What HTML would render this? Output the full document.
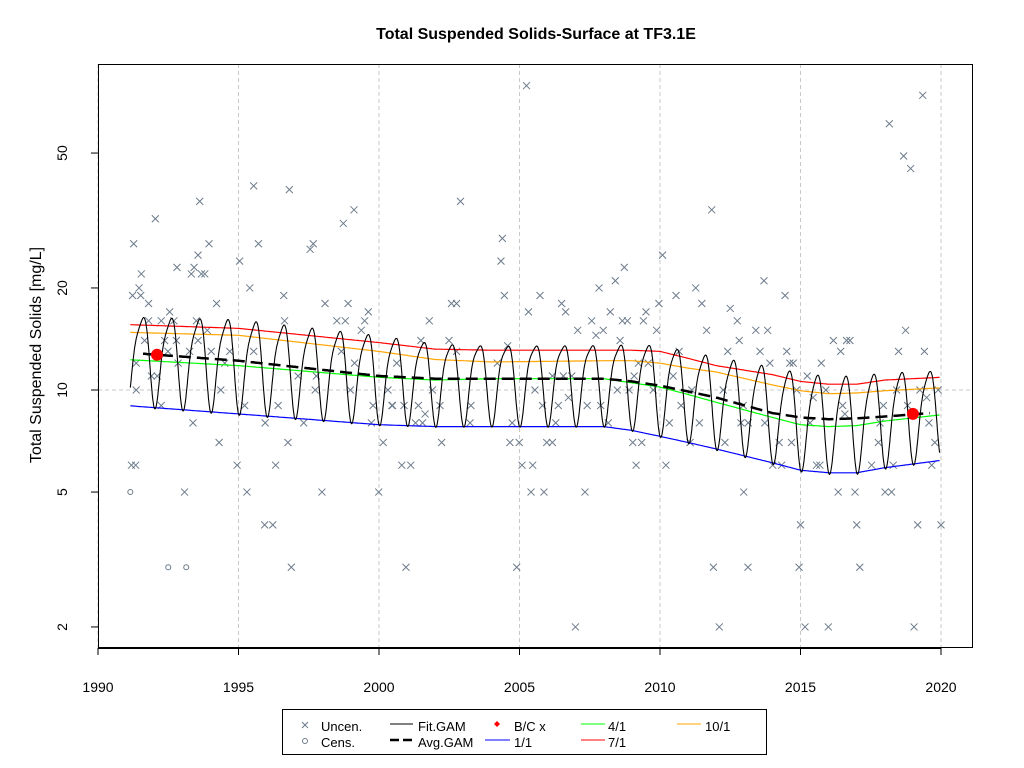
<!DOCTYPE html>
<html><head><meta charset="utf-8"><style>
body{margin:0;background:#fff;}
svg{display:block;font-family:"Liberation Sans",Arial,sans-serif;}
</style></head><body>
<svg id="chart" width="1024" height="768" viewBox="0 0 1024 768" xmlns="http://www.w3.org/2000/svg">
<rect x="0" y="0" width="1024" height="768" fill="#fff"/>
<text x="536" y="39" text-anchor="middle" font-size="16" font-weight="bold">Total Suspended Solids-Surface at TF3.1E</text>
<text transform="translate(41,355) rotate(-90)" text-anchor="middle" font-size="16">Total Suspended Solids [mg/L]</text>
<g id="grid"></g>
<g id="axes"></g>
<g id="marks"></g>
<g font-size="13">
<rect x="282.5" y="709.5" width="484" height="45" fill="#fff" stroke="#000"/>
<g><path d="M302,722 l6,6 M308,722 l-6,6" stroke="#6c7b8b"/><text x="321" y="731">Uncen.</text></g>
<g><circle cx="305" cy="741" r="2.5" fill="none" stroke="#6c7b8b"/><text x="321" y="747">Cens.</text></g>
<g><line x1="390" y1="724" x2="413" y2="724" stroke="#000"/><text x="418" y="731">Fit.GAM</text></g>
<g><line x1="390" y1="740" x2="413" y2="740" stroke="#000" stroke-width="2.5" stroke-dasharray="9,4"/><text x="418" y="747">Avg.GAM</text></g>
<g><path d="M497,721 l3,3 l-3,3 l-3,-3z" fill="#f00"/><text x="514" y="731">B/C x</text></g>
<g><line x1="485" y1="740" x2="510" y2="740" stroke="#00f"/><text x="514" y="747">1/1</text></g>
<g><line x1="581" y1="724" x2="605" y2="724" stroke="#0f0"/><text x="608" y="731">4/1</text></g>
<g><line x1="581" y1="740" x2="605" y2="740" stroke="#f00"/><text x="608" y="747">7/1</text></g>
<g><line x1="677" y1="724" x2="701" y2="724" stroke="#ffa500"/><text x="705" y="731">10/1</text></g>
</g>
</svg>
<script>
const xTicks=[1990,1995,2000,2005,2010,2015,2020];
const yTicks=[2,5,10,20,50];
const uncenYears=[1995.54,1996.81,1993.62,1999.11,1992.04,1998.73,1991.27,1993.95,1995.71,1997.66,1997.55,1993.56,1995.04,1992.81,1993.42,1991.54,1993.32,1993.68,1993.8,1995.4,1991.46,1991.23,1991.52,1996.61,1991.8,1994.22,1998.08,1998.9,1999.62,1992.55,1991.8,1992.25,1992.7,1993.5,1996.64,1998.5,1998.8,1999.49,1993.89,1999.37,1991.66,1992.37,1992.79,1993.56,1992.49,1993.26,1994.03,1994.69,1995.54,1998.66,1991.36,1992.85,1994.51,1999.13,1991.9,1992.11,1997.12,1997.77,1991.36,1994.37,1997.73,1998.98,2000.32,1992.25,1995.22,1996.41,1999.79,2000.46,1993.38,1995.95,1997.32,1999.73,1994.31,1996.76,2000.15,1991.19,1991.34,1994.95,1996.32,1993.08,1995.3,1997.97,1999.99,1995.93,1996.22,1996.88,
2005.25,2002.9,2004.39,2004.34,2010.09,2008.73,2008.41,2007.83,2004.46,2005.73,2010.57,2002.58,2002.76,2006.5,2009.96,2005.32,2006.64,2008.23,2009.5,2001.79,2007.57,2008.66,2008.84,2009.41,2007.07,2007.98,2009.88,2007.72,2001.49,2002.49,2008.58,2004.58,2002.76,2010.68,2000.63,2004.21,2009.23,2009.58,2006.17,2006.56,2006.86,2009.08,2010.47,2001.9,2005.55,2008.48,2008.9,2009.76,2006.74,2000.48,2000.89,2001.4,2002.17,2003.27,2005.82,2006.38,2007.41,2007.89,2010.75,2001.64,2001.3,2001.55,2003.24,2004.74,2006.29,2008.16,2010.33,2002.23,2004.66,2004.99,2005.97,2006.17,2009.03,2009.35,2000.81,2001.13,2005.09,2005.47,2009.15,2010.21,2005.41,2005.87,2007.33,2000.96,2004.9,2006.99,
2019.35,2018.16,2018.67,2018.92,2011.84,2013.7,2011.27,2014.45,2011.49,2012.5,2012.75,2011.66,2013.41,2013.83,2018.74,2012.82,2016.17,2016.64,2016.76,2012.41,2013.56,2014.51,2016.43,2018.49,2019.41,2013.91,2014.62,2014.74,2015.74,2015.24,2011.13,2012.25,2014.86,2015.9,2018.42,2019.25,2019.9,2019.49,2015.45,2016.5,2017.95,2018.81,2012.96,2016.58,2011.4,2012.88,2013.14,2013.73,2015.34,2017.83,2019.57,2011.07,2012.31,2014.24,2014.68,2017.77,2019.78,2014.01,2014.33,2015.57,2015.69,2017.53,2018.3,2019.67,2012.98,2016.34,2016.94,2018.01,2018.24,2015.0,2017.0,2019.17,2020.0,2011.9,2013.13,2014.95,2017.11,2012.11,2015.16,2015.99,2019.04];
const uncenValues=[40,39,36,34,32,31,27,27,27,27,26,25,24,23,23,22,22,22,22,20,20,19,19,19,18,18,18,18,17,17,16,16,16,16,16,16,16,16,15,15,14,14,14,14,13,13,13,13,13,13,12,12,12,12,11,11,11,11,10,10,10,10,10,9,9,9,9,9,8,8,8,8,7,7,7,6,6,6,6,5,5,5,5,4,4,3,
79,36,28,24,25,23,21,20,19,19,19,18,18,18,18,17,17,17,17,16,16,16,16,16,15,15,15,14.5,14,14,14,13.5,13,13,12,12,12,12,11,11,11,11,11,10,10,10,10,10,9.5,9,9,9,9,9,9,9,9,9,9,8.5,8,8,8,8,8,8,8,7,7,7,7,7,7,7,6,6,6,6,6,6,5,5,5,3,3,2,
74,61,49,45,34,21,20,19,18,17.4,16,15,15,15,15,14,14,14,14,13,13,13,13,13,13,12,12,12,12,11,10,10,10,10,10,10,10,9.5,9.5,9,9,9,9,8.5,8,8,8,8,8,8,8,7,7,7,7,7,7,6,6,6,6,6,6,6,5,5,5,5,5,4,4,4,4,3,3,3,3,2,2,2,2];
const censYears=[1991.15,1992.5,1993.14];
const censValues=[5,3,3];
const knotYears=[1991,1995,2000,2002,2004,2008,2009,2010,2011,2012,2014,2015,2016,2017,2018,2020];
const jan1=[9.0,8.5,7.9,7.8,7.8,7.8,7.6,7.3,7.0,6.7,6.1,5.8,5.7,5.7,5.9,6.2];
const apr1=[12.3,11.8,10.9,10.7,10.8,10.8,10.5,10.2,9.7,9.2,8.3,7.9,7.8,7.85,8.1,8.45];
const jul1=[15.6,15.2,13.8,13.2,13.1,13.1,13.1,13.0,12.4,11.8,11.1,10.6,10.4,10.4,10.7,10.9];
const oct1=[14.8,14.5,13.0,12.3,12.1,12.2,12.2,12.0,11.6,11.3,10.35,9.95,9.75,9.8,9.95,10.15];
const avgGam=[12.9,12.2,11.0,10.8,10.8,10.8,10.6,10.3,9.9,9.5,8.55,8.3,8.2,8.25,8.35,8.6];
const bcYears=[1992.1,2019.0];
const bcValues=[12.7,8.5];
const fitRange=[1991.15,2019.95];
const avgRange=[1991.6,2019.6];

const NS="http://www.w3.org/2000/svg";
const X0=98,PXY=28.1,Y10=390,PXD=339;
function xs(t){return X0+(t-1990)*PXY;}
function ys(v){return Y10-PXD*Math.log10(v/10);}
function mk(tag,attrs,parent){const e=document.createElementNS(NS,tag);for(const k in attrs)e.setAttribute(k,attrs[k]);parent.appendChild(e);return e;}
function interp(arr,t){let i=0;if(t<=knotYears[0])i=0;else{while(i<knotYears.length-2&&t>knotYears[i+1])i++;}
 const f=(t-knotYears[i])/(knotYears[i+1]-knotYears[i]);return Math.pow(10,Math.log10(arr[i])*(1-f)+Math.log10(arr[i+1])*f);}
const grid=document.getElementById('grid'),axes=document.getElementById('axes'),marks=document.getElementById('marks');
xTicks.forEach(t=>{const l=mk('line',{x1:xs(t),x2:xs(t),y1:64,y2:648,stroke:'#c8c8c8','stroke-dasharray':'4,3'},grid);

});
{const l=mk('line',{x1:98,x2:973,y1:ys(10),y2:ys(10),stroke:'#c8c8c8','stroke-dasharray':'4,3'},grid);

}
mk('rect',{x:98.5,y:64.5,width:874,height:583,fill:'none',stroke:'#000'},axes);
mk('line',{x1:xs(1990),x2:xs(2020),y1:648.5,y2:648.5,stroke:'#000'},axes);
xTicks.forEach(t=>{mk('line',{x1:xs(t),x2:xs(t),y1:648,y2:655,stroke:'#000'},axes);
const tx=mk('text',{x:xs(t),y:692,'text-anchor':'middle','font-size':'14'},axes);tx.textContent=t;

});
yTicks.forEach(v=>{mk('line',{x1:91,x2:98,y1:ys(v),y2:ys(v),stroke:'#000'},axes);
const tx=mk('text',{transform:`translate(67,${ys(v)}) rotate(-90)`,'text-anchor':'middle','font-size':'14'},axes);tx.textContent=v;

});
// points
uncenYears.forEach((t,i)=>{const x=xs(t),y=ys(uncenValues[i]);
const p=mk('path',{d:`M${x-3.5},${y-3.5}L${x+3.5},${y+3.5}M${x+3.5},${y-3.5}L${x-3.5},${y+3.5}`,stroke:'#6c7b8b','stroke-width':1},marks);

});
censYears.forEach((t,i)=>{const c=mk('circle',{cx:xs(t),cy:ys(censValues[i]),r:2.5,fill:'none',stroke:'#6c7b8b'},marks);

});
function seriesPath(arr,a,b){let d='';for(let t=a;t<=b+1e-9;t+=0.05){d+=(d?'L':'M')+xs(t).toFixed(1)+','+ys(interp(arr,t)).toFixed(1);}return d;}
[[jan1,'#00f','line-1-1'],[apr1,'#0f0','line-4-1'],[jul1,'#f00','line-7-1'],[oct1,'#ffa500','line-10-1']].forEach(s=>{
const p=mk('path',{d:seriesPath(s[0],fitRange[0],fitRange[1]),fill:'none',stroke:s[1],'stroke-width':1.2},marks);

});
// fit: trig interpolation through quarterly values
let fd='';
for(let t=fitRange[0];t<=fitRange[1]+1e-9;t+=0.01){
 const q=[jan1,apr1,jul1,oct1].map(a=>Math.log10(interp(a,t)));
 const c0=(q[0]+q[1]+q[2]+q[3])/4,a1=(q[0]-q[2])/2,b1=(q[1]-q[3])/2,a2=(q[0]-q[1]+q[2]-q[3])/4;
 const ph=2*Math.PI*(t-Math.floor(t));
 const v=Math.pow(10,c0+a1*Math.cos(ph)+b1*Math.sin(ph)+a2*Math.cos(2*ph));
 fd+=(fd?'L':'M')+xs(t).toFixed(1)+','+ys(v).toFixed(1);}
{const p=mk('path',{d:fd,fill:'none',stroke:'#000','stroke-width':1.1},marks);

}
{const p=mk('path',{d:seriesPath(avgGam,avgRange[0],avgRange[1]),fill:'none',stroke:'#000','stroke-width':2.5,'stroke-dasharray':'12,6'},marks);

}
bcYears.forEach((t,i)=>{const c=mk('circle',{cx:xs(t),cy:ys(bcValues[i]),r:6,fill:'#f00'},marks);

});
</script>
</body></html>
